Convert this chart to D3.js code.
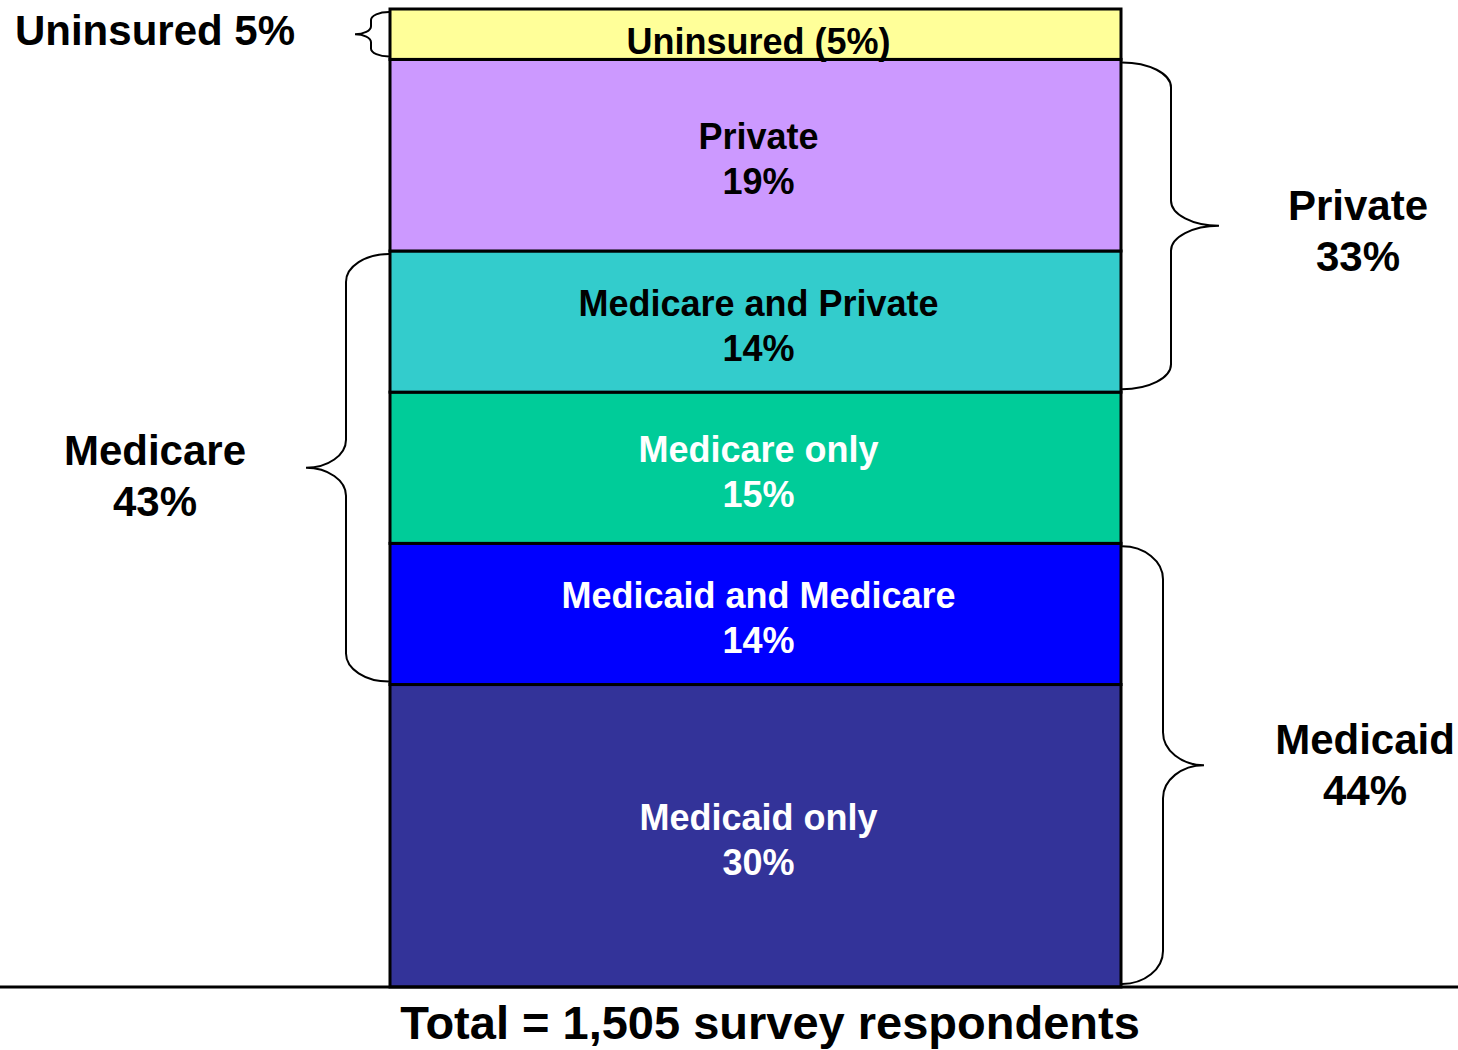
<!DOCTYPE html>
<html>
<head>
<meta charset="utf-8">
<script src="https://cdn.jsdelivr.net/npm/d3@7"></script>
<style>
  body { margin: 0; background: #fff; }
  text { font-family: "Liberation Sans", Arial, sans-serif; font-weight: bold; }
</style>
</head>
<body>
<div id="chart"></div>
<script>
// segments, bottom to top
var categories = ["Medicaid only", "Medicaid and Medicare", "Medicare only", "Medicare and Private", "Private", "Uninsured"];
var shares = [30, 14, 15, 14, 19, 5];
var fills = ["#333399", "#0000FF", "#00CC99", "#33CCCC", "#CC99FF", "#FFFF99"];
var textColors = ["#fff", "#fff", "#fff", "#000", "#000", "#000"];

// brace groups: first and last segment index covered
var groupNames = ["Uninsured", "Private", "Medicare", "Medicaid"];
var groupShares = [5, 33, 43, 44];
var groupFrom = [5, 3, 1, 0];
var groupTo = [5, 4, 3, 1];
var groupSide = ["left", "right", "left", "right"];

var totalLabel = "Total = 1,505 survey respondents";

var width = 1458, height = 1050;

var svg = d3.select("#chart").append("svg")
    .attr("width", width)
    .attr("height", height);

var total = d3.sum(shares);
var y = d3.scaleLinear().domain([0, total]).range([987, 9]);
var x0 = 390, x1 = 1121;
var cx = (x0 + x1) / 2 + 3;

var stack = [];
var acc = 0;
shares.forEach(function(v, i) {
    stack.push({ name: categories[i], value: v, lo: acc, hi: acc + v, fill: fills[i], tc: textColors[i] });
    acc += v;
});

svg.append("g")
    .selectAll("rect")
    .data(stack)
    .enter().append("rect")
    .attr("x", x0)
    .attr("width", x1 - x0)
    .attr("y", function(d) { return y(d.hi); })
    .attr("height", function(d) { return y(d.lo) - y(d.hi); })
    .attr("fill", function(d) { return d.fill; })
    .attr("stroke", "#000")
    .attr("stroke-width", 3);

// labels in the bar
var lbl = svg.append("g").selectAll("text")
    .data(stack)
    .enter().append("text")
    .attr("text-anchor", "middle")
    .attr("font-size", 36)
    .attr("fill", function(d) { return d.tc; })
    .attr("x", cx)
    .attr("y", function(d) {
        if (d.name == "Uninsured") return y(d.lo) - 5;
        return (y(d.lo) + y(d.hi)) / 2 - 6;
    });

lbl.each(function(d) {
    var t = d3.select(this);
    if (d.name == "Uninsured") {
        t.text(d.name + " (" + d.value + "%)");
        return;
    }
    t.append("tspan").attr("x", cx).text(d.name);
    t.append("tspan").attr("x", cx).attr("dy", 45).text(d.value + "%");
});

// baseline
svg.append("line")
    .attr("x1", 0).attr("x2", width)
    .attr("y1", y(0)).attr("y2", y(0))
    .attr("stroke", "#000")
    .attr("stroke-width", 3);

function bracePath(xe, top, bot, depth, tipDepth, r, dir) {
    var xv = xe + dir * depth,
        xt = xe + dir * tipDepth,
        mid = (top + bot) / 2,
        k = 0.55;
    var p = d3.path();
    p.moveTo(xe, top);
    p.bezierCurveTo(xe + (xv - xe) * k, top, xv, top + r * (1 - k), xv, top + r);
    p.lineTo(xv, mid - r);
    p.bezierCurveTo(xv, mid - r * (1 - k), xv + (xt - xv) * (1 - k), mid, xt, mid);
    p.bezierCurveTo(xv + (xt - xv) * (1 - k), mid, xv, mid + r * (1 - k), xv, mid + r);
    p.lineTo(xv, bot - r);
    p.bezierCurveTo(xv, bot - r * (1 - k), xe + (xv - xe) * k, bot, xe, bot);
    return p.toString();
}

// brace shapes per group (depth of stem, depth of tip, curve size)
var braceDepth = [18, 49, 43, 41];
var braceTip = [34, 97, 83, 82];
var braceR = [8, 25, 28, 33];
var labelX = [155, 1358, 155, 1365];
var labelDy = [11, -6, -3, -11];

groupNames.forEach(function(name, i) {
    var top = y(stack[groupTo[i]].hi) + 3,
        bot = y(stack[groupFrom[i]].lo) - 3;
    var dir = groupSide[i] == "left" ? -1 : 1;
    var xe = dir < 0 ? x0 - 1 : x1 + 1;
    svg.append("path")
        .attr("d", bracePath(xe, top, bot, braceDepth[i], braceTip[i], braceR[i], dir))
        .attr("fill", "none")
        .attr("stroke", "#000")
        .attr("stroke-width", 2);

    var mid = (top + bot) / 2;
    var t = svg.append("text")
        .attr("text-anchor", "middle")
        .attr("font-size", 42)
        .attr("fill", "#000");
    if (name == "Uninsured") {
        t.attr("x", labelX[i]).attr("y", mid + labelDy[i]).text(name + " " + groupShares[i] + "%");
    } else {
        t.attr("y", mid + labelDy[i]);
        t.append("tspan").attr("x", labelX[i]).text(name);
        t.append("tspan").attr("x", labelX[i]).attr("dy", 51).text(groupShares[i] + "%");
    }
});

svg.append("text")
    .attr("x", 770)
    .attr("y", 1039)
    .attr("text-anchor", "middle")
    .attr("font-size", 47)
    .attr("fill", "#000")
    .text(totalLabel);
</script>
</body>
</html>
